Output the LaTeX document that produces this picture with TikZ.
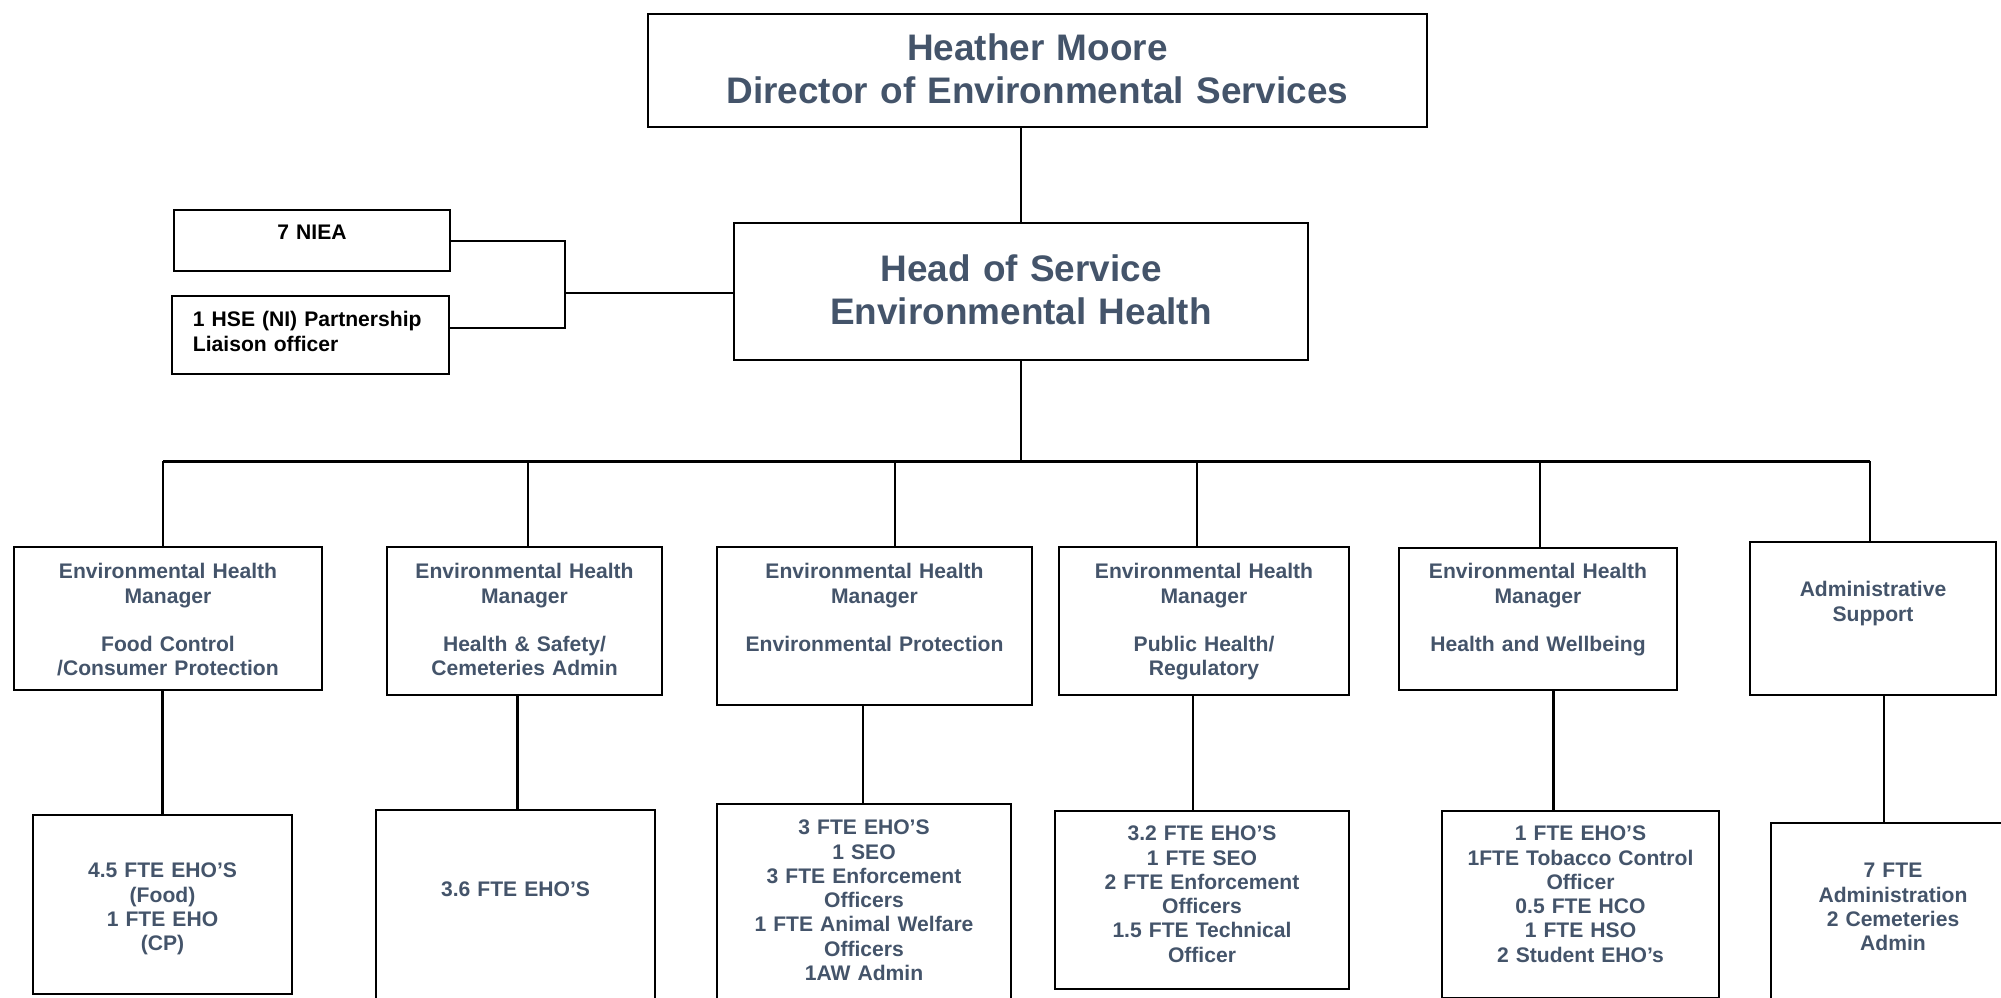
\documentclass[tikz,border=0pt]{standalone}
\usepackage{fontspec}
\setmainfont{Liberation Sans}
\usepackage{tikz}
\definecolor{slate}{RGB}{68,84,106}
\newcommand{\smallbf}{\fontsize{6}{6.9}\selectfont\bfseries}
\newcommand{\bigbf}{\fontsize{10.5}{12.2}\selectfont\bfseries}

\begin{document}
\begin{tikzpicture}[x=0.01cm,y=-0.01cm,
    box/.style={draw, line width=0.65pt, inner sep=0pt, anchor=north, align=center, text=slate, font=\smallbf},
    link/.style={line width=0.6pt}]
  \useasboundingbox (0,0) rectangle (2001,998);
  \clip (0,0) rectangle (2001,998);

  % top of the chart
  \node[box, font=\bigbf, text width=7.79cm, text height=0.464cm, text depth=0.666cm] (dir) at (1037.5,13)
    {Heather Moore\\Director of Environmental Services};
  \node[box, font=\bigbf, text width=5.74cm, text height=0.584cm, text depth=0.786cm] (head) at (1021,222)
    {Head of Service\\Environmental Health};

  % side boxes
  \node[box, text=black, text width=2.76cm, text height=0.297cm, text depth=0.313cm] (niea) at (312,209) {7 NIEA};
  \node[box, text=black, align=left, inner xsep=0.21cm, text width=2.35cm, text height=0.307cm, text depth=0.473cm] (hse) at (310.5,295)
    {1 HSE (NI) Partnership\\Liaison officer};

  % managers
  \node[box, text width=3.08cm, text height=0.317cm, text depth=1.113cm] (m1) at (168,546)
    {Environmental Health\\Manager\\[6.9pt]Food Control\\/Consumer Protection};
  \node[box, text width=2.75cm, text height=0.317cm, text depth=1.163cm] (m2) at (524.5,546)
    {Environmental Health\\Manager\\[6.9pt]Health \& Safety/\\Cemeteries Admin};
  \node[box, text width=3.15cm, text height=0.317cm, text depth=1.263cm] (m3) at (874.5,546)
    {Environmental Health\\Manager\\[6.9pt]Environmental Protection};
  \node[box, text width=2.90cm, text height=0.317cm, text depth=1.163cm] (m4) at (1204,546)
    {Environmental Health\\Manager\\[6.9pt]Public Health/\\Regulatory};
  \node[box, text width=2.78cm, text height=0.307cm, text depth=1.113cm] (m5) at (1538,547)
    {Environmental Health\\Manager\\[6.9pt]Health and Wellbeing};
  \node[box, text width=2.46cm, text height=0.547cm, text depth=0.983cm] (m6) at (1873,541)
    {Administrative\\Support};

  % staff
  \node[box, text width=2.59cm, text height=0.627cm, text depth=1.163cm] (s1) at (162.5,814)
    {4.5 FTE EHO’S\\(Food)\\1 FTE EHO\\(CP)};
  \node[box, text width=2.79cm, text height=0.867cm, text depth=1.023cm] (s2) at (515.5,809)
    {3.6 FTE EHO’S};
  \node[box, text width=2.94cm, text height=0.307cm, text depth=1.763cm] (s3) at (864,803)
    {3 FTE EHO’S\\1 SEO\\3 FTE Enforcement\\Officers\\1 FTE Animal Welfare\\Officers\\1AW Admin};
  \node[box, text width=2.94cm, text height=0.297cm, text depth=1.483cm] (s4) at (1202,810)
    {3.2 FTE EHO’S\\1 FTE SEO\\2 FTE Enforcement\\Officers\\1.5 FTE Technical\\Officer};
  \node[box, text width=2.77cm, text height=0.297cm, text depth=1.573cm] (s5) at (1580.5,810)
    {1 FTE EHO’S\\1FTE Tobacco Control\\Officer\\0.5 FTE HCO\\1 FTE HSO\\2 Student EHO’s};
  \node[box, text width=2.44cm, text height=0.547cm, text depth=1.333cm] (s6) at (1893,822)
    {7 FTE\\Administration\\2 Cemeteries\\Admin};

  % connectors
  \draw[link] (head.north) -- (head.north |- dir.south);
  \coordinate (j) at (565,293);
  \draw[link] (niea.east) -| (j);
  \draw[link] ([yshift=0.07cm]hse.east) -| (j);
  \draw[link] (j) -- (j -| head.west);

  \coordinate (b1) at (163,461.5);
  \coordinate (b2) at (528,461.5);
  \coordinate (b3) at (895,461.5);
  \coordinate (b4) at (1197,461.5);
  \coordinate (b5) at (1540,461.5);
  \coordinate (b6) at (1870,461.5);
  \draw[link] (head.south) -- (head.south |- b1);
  \draw[link] (b1) -- (b6);
  \foreach \i in {1,...,6}{\draw[link] (b\i) -- (b\i |- m\i.north);}
  \foreach \i/\dx in {1/0,2/2,3/-1,4/-9,5/-27,6/-9}{
    \draw[link] ([xshift=\dx*0.01cm]s\i.north) -- ([xshift=\dx*0.01cm]s\i.north |- m\i.south);}
\end{tikzpicture}
\end{document}
